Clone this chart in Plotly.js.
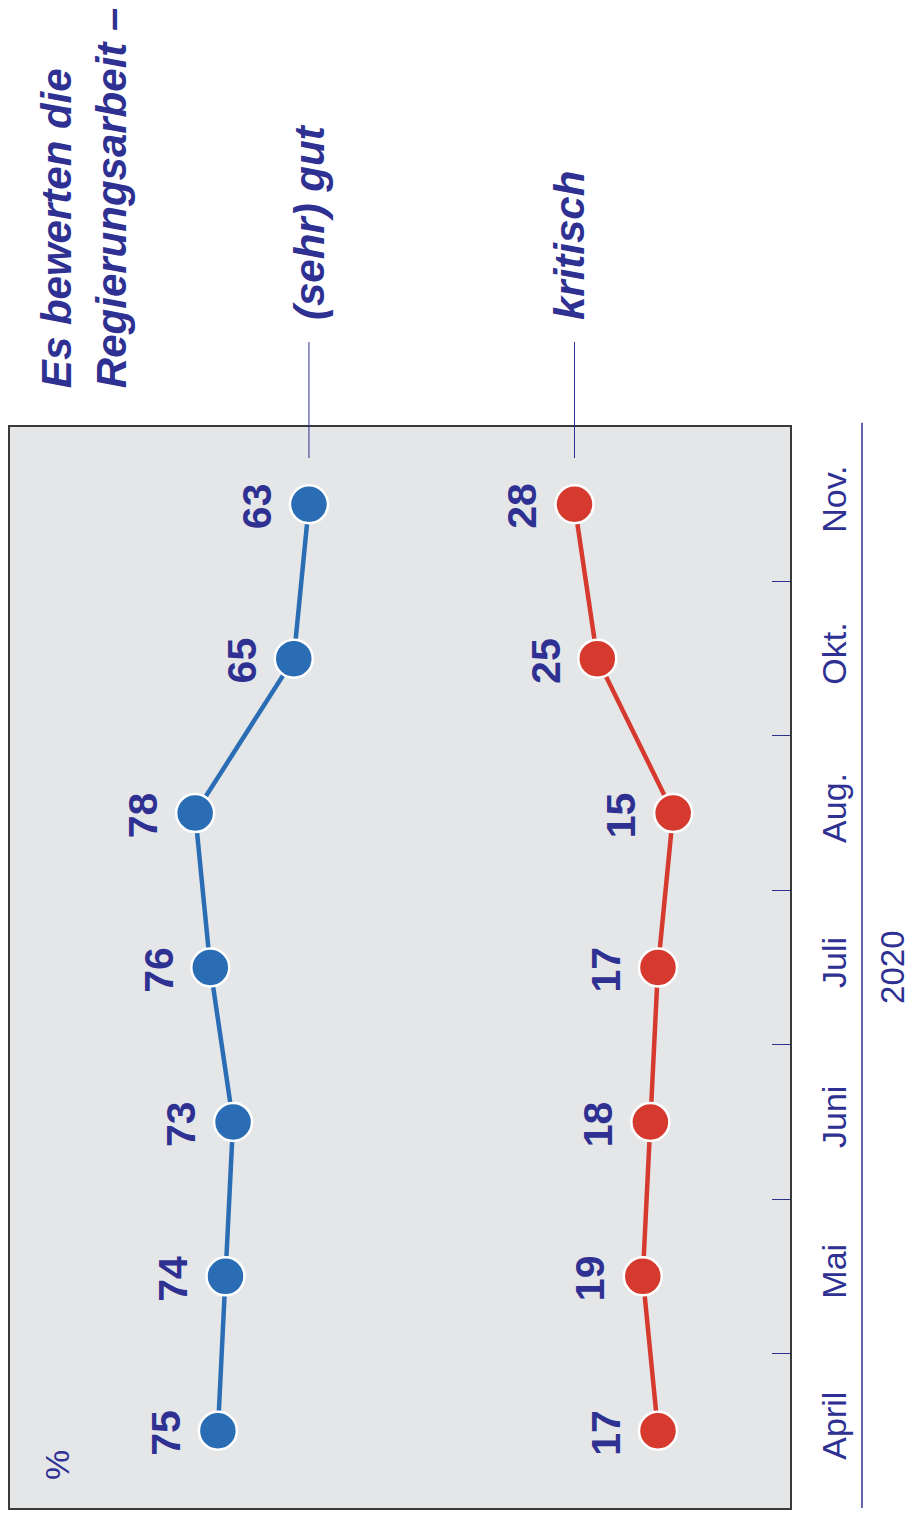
<!DOCTYPE html>
<html>
<head>
<meta charset="utf-8">
<script src="https://cdn.plot.ly/plotly-3.0.1.min.js"></script>
<style>
  html, body { margin: 0; padding: 0; background: #ffffff; }
  #chart { width: 911px; height: 1517px; }
</style>
</head>
<body>
<div id="chart"></div>
<script>
// Survey months (2020)
const months = ['April', 'Mai', 'Juni', 'Juli', 'Aug.', 'Okt.', 'Nov.'];
// Share rating the government's work as (very) good, in %
const gut = [75, 74, 73, 76, 78, 65, 63];
// Share rating it critically, in %
const kritisch = [17, 19, 18, 17, 15, 25, 28];

const seriesNames = ['(sehr) gut', 'kritisch'];
const titleLines = ['Es bewerten die', 'Regierungsarbeit –'];
const yearLabel = '2020';
const unitLabel = '%';

const NAVY = '#2e3192';
const BLUE = '#2a6db4';
const RED = '#d63a2f';
const FONT = 'Liberation Sans, Arial, sans-serif';

function series(values, color) {
  return {
    type: 'scatter',
    mode: 'lines+markers',
    x: values,
    y: months,
    line: { color: color, width: 4.5 },
    marker: { size: 38, color: color, line: { color: '#ffffff', width: 2.5 } },
    hoverinfo: 'skip',
    cliponaxis: false
  };
}

const traces = [series(gut, BLUE), series(kritisch, RED)];

const labelFont = { family: FONT, size: 41, color: NAVY, weight: 'bold' };
const annotations = [];
[gut, kritisch].forEach(vals => {
  vals.forEach((v, i) => {
    annotations.push({
      x: v, y: months[i], xref: 'x', yref: 'y',
      text: String(v), showarrow: false, textangle: -90,
      xanchor: 'center', yanchor: 'middle', xshift: -52, yshift: -2,
      font: labelFont
    });
  });
});

// Chart title, rotated along the left edge
annotations.push({
  x: 0.095, y: 1.0342, xref: 'paper', yref: 'paper',
  text: titleLines.join('<br>'), showarrow: false, textangle: -90,
  xanchor: 'center', yanchor: 'bottom', align: 'left',
  font: { family: FONT, size: 42, color: NAVY, weight: 'bold', style: 'italic' }
});

// Series names above the last point of each line
const lastGut = gut[gut.length - 1];
const lastKrit = kritisch[kritisch.length - 1];
[[lastGut, seriesNames[0], 0], [lastKrit, seriesNames[1], -5]].forEach(([v, name, shift]) => {
  annotations.push({
    x: v, y: 1.0971, xref: 'x', yref: 'paper',
    text: name, showarrow: false, textangle: -90, xshift: shift,
    xanchor: 'center', yanchor: 'bottom',
    font: { family: FONT, size: 42, color: NAVY, weight: 'bold', style: 'italic' }
  });
});

// Year label and unit
annotations.push({
  x: 1.1320, y: 0.5005, xref: 'paper', yref: 'paper',
  text: yearLabel, showarrow: false, textangle: -90,
  xanchor: 'center', yanchor: 'middle',
  font: { family: FONT, size: 33, color: NAVY }
});
annotations.push({
  x: 0.0603, y: 0.0398, xref: 'paper', yref: 'paper',
  text: unitLabel, showarrow: false, textangle: -90,
  xanchor: 'center', yanchor: 'middle',
  font: { family: FONT, size: 34, color: NAVY }
});

const shapes = [
  // leader lines from the series names down into the plot
  { type: 'line', xref: 'x', yref: 'paper', x0: lastGut, x1: lastGut, y0: 0.9713, y1: 1.0786,
    line: { color: NAVY, width: 1 } },
  { type: 'line', xref: 'x', yref: 'paper', x0: lastKrit, x1: lastKrit, y0: 0.9713, y1: 1.0786,
    line: { color: NAVY, width: 1 } },
  // rule between month labels and year
  { type: 'line', xref: 'paper', yref: 'paper', x0: 1.0923, x1: 1.0923, y0: 0, y1: 1.004,
    line: { color: NAVY, width: 1.5 } }
];

const layout = {
  width: 911,
  height: 1517,
  margin: { l: 10, r: 121, t: 427, b: 9, pad: 0 },
  paper_bgcolor: '#ffffff',
  plot_bgcolor: '#e5e6e8',
  showlegend: false,
  xaxis: {
    range: [102.4, -0.4],
    showgrid: false, zeroline: false, showticklabels: false, ticks: '',
    showline: true, mirror: true, linecolor: '#3a3a3a', linewidth: 2,
    fixedrange: true
  },
  yaxis: {
    type: 'category',
    categoryorder: 'array',
    categoryarray: months,
    range: [-0.5, 6.5],
    side: 'right',
    showgrid: false, zeroline: false,
    ticks: 'inside', ticklen: 18, tickwidth: 1, tickcolor: NAVY,
    tickson: 'boundaries',
    tickangle: -90,
    ticklabelstandoff: 13,
    tickfont: { family: FONT, size: 34, color: NAVY },
    showline: true, mirror: true, linecolor: '#3a3a3a', linewidth: 2,
    fixedrange: true
  },
  annotations: annotations,
  shapes: shapes
};

Plotly.newPlot('chart', traces, layout, { displayModeBar: false, staticPlot: true });
</script>
</body>
</html>
